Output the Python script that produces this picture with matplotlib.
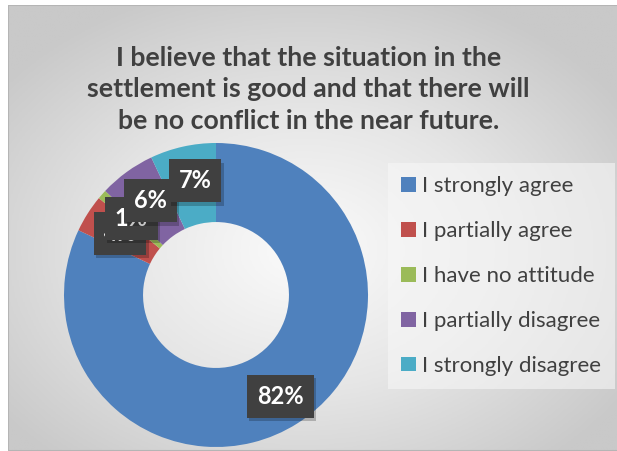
import numpy as np
import matplotlib.pyplot as plt
from matplotlib.patches import Rectangle
from matplotlib.colors import LinearSegmentedColormap

labels = ["I strongly agree", "I partially agree", "I have no attitude",
          "I partially disagree", "I strongly disagree"]
values = [82, 4, 1, 6, 7]
colors = ["#4f81bd", "#c0504d", "#9bbb59", "#8064a2", "#4bacc6"]
title = ("I believe that the situation in the\nsettlement is good and that there will\n"
         "be no conflict in the near future.")

plt.rcParams['font.family'] = ['Lato', 'DejaVu Sans']

fig = plt.figure(figsize=(6.17, 4.51), dpi=100)
fig.patch.set_facecolor('white')

# background panel, light in the middle and grey at the corners
bg = fig.add_axes([8 / 617, 0, 1, 446 / 451])
yy, xx = np.mgrid[0:1:300j, 0:1:400j]
r = np.sqrt(((xx - 0.48) / 0.62) ** 2 + ((yy - 0.45) / 0.62) ** 2)
grad = LinearSegmentedColormap.from_list('g', ['#fbfbfb', '#e6e6e6', '#c9c9c9'])
bg.imshow(np.clip(r, 0, 1), cmap=grad, vmin=0, vmax=1,
          extent=[0, 1, 0, 1], aspect='auto', origin='lower')
bg.add_patch(Rectangle((0, 0), 1, 1, fill=False, edgecolor='#b5b5b5', lw=1.5))
bg.set_xlim(0, 1)
bg.set_ylim(0, 1)
bg.axis('off')

fig.text(0.5, 1 - 133 / 451, title, ha='center', va='bottom', fontsize=19.2,
         fontweight='bold', color='#404040', linespacing=1.38)

# donut
ax = fig.add_axes([(216 - 152) / 617, (451 - 295 - 152) / 451, 304 / 617, 304 / 451])
wedges, _ = ax.pie(values, colors=colors, startangle=90, counterclock=False,
                   radius=1.0, wedgeprops=dict(width=0.52, linewidth=0))
ax.set_xlim(-1, 1)
ax.set_ylim(-1, 1)
ax.set_aspect('equal')

for w, v in zip(wedges, values):
    ang = np.deg2rad((w.theta1 + w.theta2) / 2)
    x, y = 0.79 * np.cos(ang), 0.79 * np.sin(ang)
    if v < 50:
        x += 0.035
        y -= 0.02
    ax.text(x + 0.015, y - 0.022, f"{v}%", ha='center', va='center', fontsize=17,
            fontweight='bold', color='none', clip_on=False,
            bbox=dict(boxstyle='square,pad=0.42', fc='#000000', ec='none', alpha=0.22))
    ax.text(x, y, f"{v}%", ha='center', va='center', fontsize=17,
            fontweight='bold', color='white', clip_on=False,
            bbox=dict(boxstyle='square,pad=0.42', fc='#404040', ec='none'))

leg = fig.legend(wedges, labels, loc='upper left', bbox_to_anchor=(388 / 617, 1 - 163 / 451),
                 frameon=True, fontsize=16, labelcolor='#404040', handlelength=0.65,
                 handleheight=0.65, handletextpad=0.3, labelspacing=1.12,
                 borderpad=0.6, borderaxespad=0)
leg.get_frame().set_facecolor('#f7f7f7')
leg.get_frame().set_alpha(0.6)
leg.get_frame().set_edgecolor('none')
leg.get_frame().set_boxstyle('square', pad=0)

fig.savefig('out.png', dpi=100)
